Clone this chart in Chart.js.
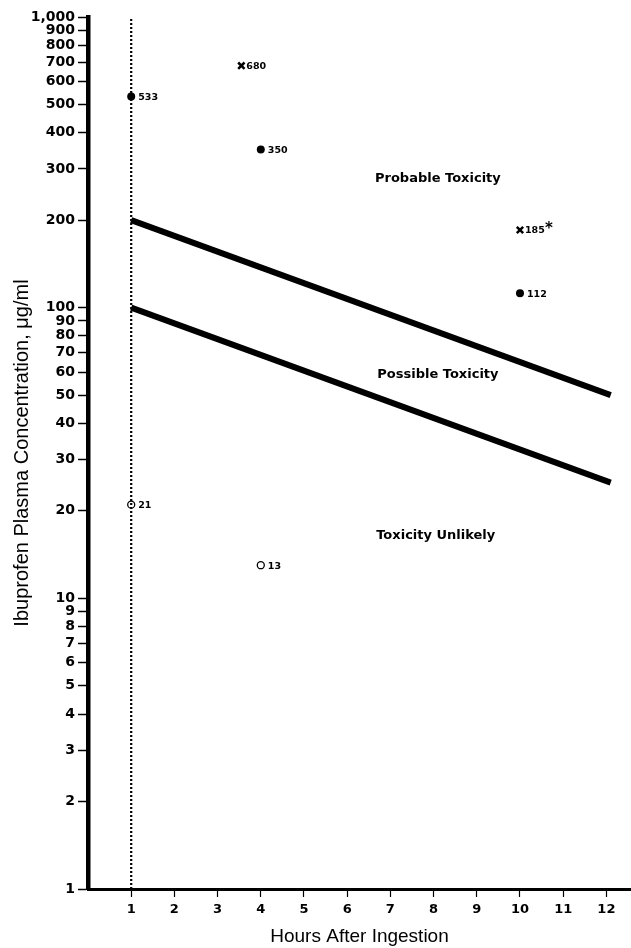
<!DOCTYPE html>
<html>
<head>
<meta charset="utf-8">
<script src="https://cdn.jsdelivr.net/npm/chart.js@4/dist/chart.umd.min.js"></script>
<style>
  html, body { margin: 0; padding: 0; background: #fff; overflow: hidden; }
  canvas { display: block; }
</style>
</head>
<body>
<canvas id="chart" width="631" height="948"></canvas>
<script>
// ticks
const hourTicks = [1, 2, 3, 4, 5, 6, 7, 8, 9, 10, 11, 12];
const concTicks = [1, 2, 3, 4, 5, 6, 7, 8, 9, 10, 20, 30, 40, 50, 60, 70, 80, 90,
  100, 200, 300, 400, 500, 600, 700, 800, 900, 1000];

// nomogram lines (hours, ug/ml)
const lineHours = [1, 12.1];
const probableLine = [200, 50];
const possibleLine = [100, 25];

// dotted line at 1 hour
const dottedHours = [1, 1];
const dottedConc = [1, 1000];

// patients
const filledHours = [1, 4, 10];
const filledConc = [533, 350, 112];
const openHours = [1, 4];
const openConc = [21, 13];
const crossHours = [3.55, 10];
const crossConc = [680, 185];

// zone labels
const zoneNames = ["Probable Toxicity", "Possible Toxicity", "Toxicity Unlikely"];
const zoneHours = [8.1, 8.1, 8.05];
const zoneConc = [279, 59, 16.4];

const pts = (xs, ys) => xs.map((x, i) => ({ x: x, y: ys[i] }));

// draw value labels next to points + zone names
const textPlugin = {
  id: 'texts',
  afterDatasetsDraw(chart) {
    const ctx = chart.ctx;
    const xs = chart.scales.x, ys = chart.scales.y;
    ctx.save();
    ctx.fillStyle = '#000';
    ctx.textBaseline = 'middle';
    ctx.textAlign = 'left';
    ctx.font = 'bold 9.5px "DejaVu Sans"';
    const label = (hx, cy, dx) => {
      ctx.fillText(String(cy), xs.getPixelForValue(hx) + dx, ys.getPixelForValue(cy) + 1);
    };
    filledHours.forEach((h, i) => label(h, filledConc[i], 7));
    openHours.forEach((h, i) => label(h, openConc[i], 7));
    crossHours.forEach((h, i) => label(h, crossConc[i], 5));
    // asterisk after 185
    ctx.font = 'bold 15px "DejaVu Sans"';
    ctx.fillText('*', xs.getPixelForValue(crossHours[1]) + 25, ys.getPixelForValue(crossConc[1]) - 1);

    ctx.textAlign = 'center';
    ctx.font = 'bold 13px "DejaVu Sans"';
    zoneNames.forEach((n, i) => {
      ctx.fillText(n, xs.getPixelForValue(zoneHours[i]), ys.getPixelForValue(zoneConc[i]));
    });
    ctx.restore();
  }
};

new Chart(document.getElementById('chart'), {
  type: 'scatter',
  data: {
    datasets: [
      {
        data: pts(dottedHours, dottedConc), showLine: true, borderColor: '#000',
        borderWidth: 2.2, borderDash: [2, 2], pointRadius: 0
      },
      {
        data: pts(lineHours, probableLine), showLine: true, borderColor: '#000',
        borderWidth: 6, pointRadius: 0, borderCapStyle: 'butt'
      },
      {
        data: pts(lineHours, possibleLine), showLine: true, borderColor: '#000',
        borderWidth: 6, pointRadius: 0, borderCapStyle: 'butt'
      },
      {
        data: pts(filledHours, filledConc), pointStyle: 'circle', pointRadius: 4,
        backgroundColor: '#000', borderColor: '#000', borderWidth: 0
      },
      {
        data: pts(openHours, openConc), pointStyle: 'circle', pointRadius: 3.5,
        backgroundColor: '#fff', borderColor: '#000', borderWidth: 1.3
      },
      {
        data: pts(crossHours, crossConc), pointStyle: 'crossRot', pointRadius: 4.5,
        borderColor: '#000', borderWidth: 2.5
      }
    ]
  },
  options: {
    responsive: false,
    animation: false,
    layout: { autoPadding: false, padding: { top: 17, right: 0, left: 0, bottom: 0 } },
    plugins: { legend: { display: false }, tooltip: { enabled: false } },
    scales: {
      x: {
        type: 'linear', min: 0, max: 12.57,
        afterBuildTicks: s => { s.ticks = hourTicks.map(v => ({ value: v })); },
        afterFit: s => { s.height = 59; s.paddingRight = 0; s.paddingLeft = 0; },
        grid: { drawOnChartArea: false, drawTicks: true, tickLength: 8, tickColor: '#000', tickWidth: 1.2 },
        border: { display: true, color: '#000', width: 3 },
        ticks: { color: '#000', font: { family: 'DejaVu Sans', weight: 'bold', size: 13 }, padding: 5, maxRotation: 0 },
        title: {
          display: true, text: 'Hours After Ingestion', color: '#000',
          font: { family: 'Liberation Sans', size: 19 }, padding: { top: 6, bottom: 0 }
        }
      },
      y: {
        type: 'logarithmic', min: 1, max: 1000,
        afterBuildTicks: s => { s.ticks = concTicks.map(v => ({ value: v })); },
        afterFit: s => { s.width = 88; },
        grid: { drawOnChartArea: false, drawTicks: true, tickLength: 10, tickColor: '#000', tickWidth: 1.5 },
        border: { display: true, color: '#000', width: 4.5 },
        ticks: {
          color: '#000', font: { family: 'DejaVu Sans', weight: 'bold', size: 14 }, padding: 3,
          autoSkip: false, callback: v => Number(v).toLocaleString('en-US')
        },
        title: {
          display: true, text: 'Ibuprofen Plasma Concentration, \u03bcg/ml', color: '#000',
          font: { family: 'Liberation Sans', size: 20 }, padding: { top: 10, bottom: 0 }
        }
      }
    }
  },
  plugins: [textPlugin]
});
</script>
</body>
</html>
